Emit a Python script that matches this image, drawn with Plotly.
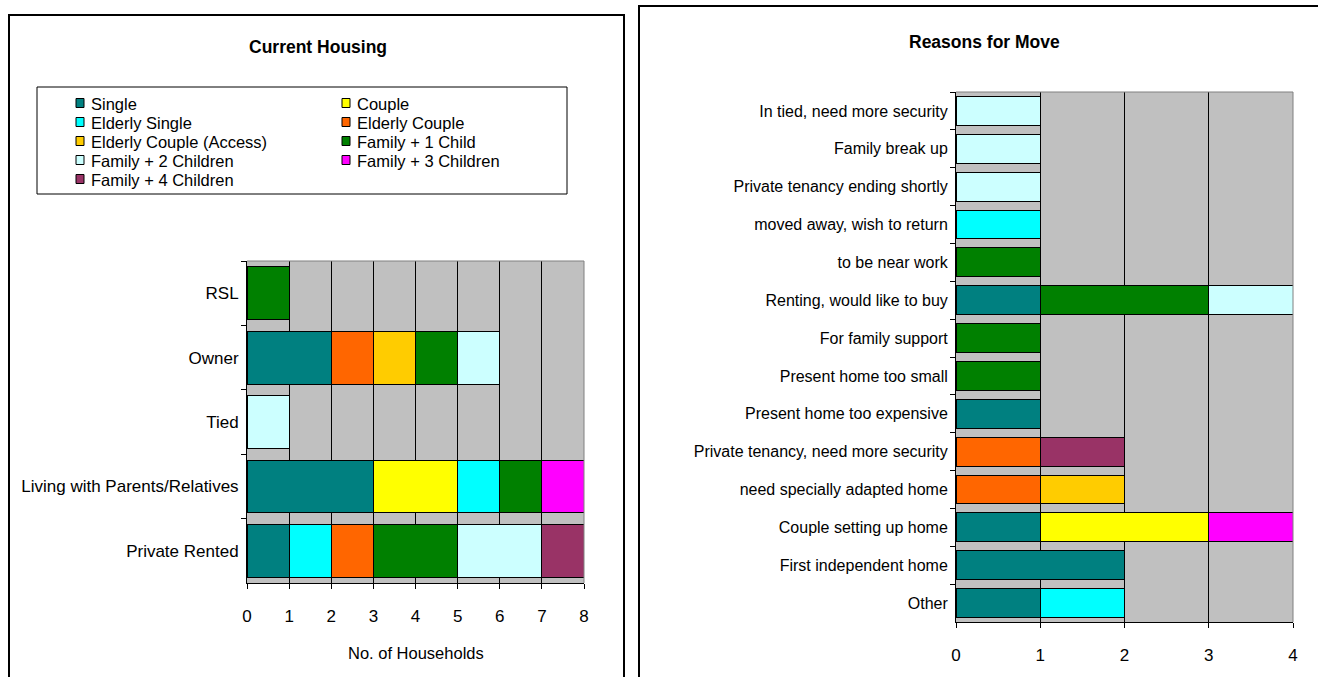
import plotly.graph_objects as go

W, H = 1318, 677

# Household types (stacking order) and their fill colours
series_names = ["Single", "Couple", "Elderly Single", "Elderly Couple",
                "Elderly Couple (Access)", "Family + 1 Child", "Family + 2 Children",
                "Family + 3 Children", "Family + 4 Children"]
series_colors = ["#008080", "#FFFF00", "#00FFFF", "#FF6600", "#FFCC00",
                 "#008000", "#CCFFFF", "#FF00FF", "#993366"]

# Current housing (top to bottom)
housing_categories = ["RSL", "Owner", "Tied", "Living with Parents/Relatives", "Private Rented"]
housing_single = [0, 2, 0, 3, 1]
housing_couple = [0, 0, 0, 2, 0]
housing_elderly_single = [0, 0, 0, 1, 1]
housing_elderly_couple = [0, 1, 0, 0, 1]
housing_elderly_access = [0, 1, 0, 0, 0]
housing_family1 = [1, 1, 0, 1, 2]
housing_family2 = [0, 1, 1, 0, 2]
housing_family3 = [0, 0, 0, 1, 0]
housing_family4 = [0, 0, 0, 0, 1]
housing_ticks = [0, 1, 2, 3, 4, 5, 6, 7, 8]

# Reasons for move (top to bottom)
reason_categories = ["In tied, need more security", "Family break up",
                     "Private tenancy ending shortly", "moved away, wish to return",
                     "to be near work", "Renting, would like to buy", "For family support",
                     "Present home too small", "Present home too expensive",
                     "Private tenancy, need more security", "need specially adapted home",
                     "Couple setting up home", "First independent home", "Other"]
reason_single =         [0, 0, 0, 0, 0, 1, 0, 0, 1, 0, 0, 1, 2, 1]
reason_couple =         [0, 0, 0, 0, 0, 0, 0, 0, 0, 0, 0, 2, 0, 0]
reason_elderly_single = [0, 0, 0, 1, 0, 0, 0, 0, 0, 0, 0, 0, 0, 1]
reason_elderly_couple = [0, 0, 0, 0, 0, 0, 0, 0, 0, 1, 1, 0, 0, 0]
reason_elderly_access = [0, 0, 0, 0, 0, 0, 0, 0, 0, 0, 1, 0, 0, 0]
reason_family1 =        [0, 0, 0, 0, 1, 2, 1, 1, 0, 0, 0, 0, 0, 0]
reason_family2 =        [1, 1, 1, 0, 0, 1, 0, 0, 0, 0, 0, 0, 0, 0]
reason_family3 =        [0, 0, 0, 0, 0, 0, 0, 0, 0, 0, 0, 1, 0, 0]
reason_family4 =        [0, 0, 0, 0, 0, 0, 0, 0, 0, 1, 0, 0, 0, 0]
reason_ticks = [0, 1, 2, 3, 4]

housing_series = [housing_single, housing_couple, housing_elderly_single,
                  housing_elderly_couple, housing_elderly_access, housing_family1,
                  housing_family2, housing_family3, housing_family4]
reason_series = [reason_single, reason_couple, reason_elderly_single,
                 reason_elderly_couple, reason_elderly_access, reason_family1,
                 reason_family2, reason_family3, reason_family4]

FONT = "Liberation Sans, Arial, sans-serif"


def px(x):
    return x / W


def py(y):
    return 1 - y / H


def nz(values):
    # empty segments are left out so no zero-width outlines are drawn
    return [v if v else None for v in values]


fig = go.Figure()

for name, color, hv, rv in zip(series_names, series_colors, housing_series, reason_series):
    fig.add_trace(go.Bar(
        x=nz(hv), y=housing_categories, orientation="h", name=name,
        marker=dict(color=color, line=dict(color="black", width=1)),
        width=0.82, xaxis="x", yaxis="y", showlegend=False))
    fig.add_trace(go.Bar(
        x=nz(rv), y=reason_categories, orientation="h", name=name,
        marker=dict(color=color, line=dict(color="black", width=1)),
        width=0.76, xaxis="x2", yaxis="y2", showlegend=False))

axis_common = dict(
    showline=True, linecolor="black", linewidth=1,
    ticks="outside", ticklen=5, tickcolor="black", tickwidth=1,
    zeroline=False, fixedrange=True, automargin=False,
)

fig.update_layout(
    width=W, height=H,
    margin=dict(l=0, r=0, t=0, b=0),
    paper_bgcolor="white",
    plot_bgcolor="#C0C0C0",
    barmode="stack",
    showlegend=False,
    font=dict(family=FONT, size=17, color="black"),
    xaxis=dict(domain=[px(247), px(584)], range=[0, 8], tickmode="array",
               tickvals=housing_ticks, showgrid=True, gridcolor="black", gridwidth=1,
               anchor="y", ticklabelstandoff=13,
               tickfont=dict(family=FONT, size=17, color="black"), **axis_common),
    yaxis=dict(domain=[py(583), py(261)], type="category",
               categoryorder="array", categoryarray=housing_categories,
               autorange="reversed", tickson="boundaries", showgrid=False,
               anchor="x", ticklabelstandoff=4,
               tickfont=dict(family=FONT, size=17, color="black"), **axis_common),
    xaxis2=dict(domain=[px(956), px(1293)], range=[0, 4], tickmode="array",
                tickvals=reason_ticks, showgrid=True, gridcolor="black", gridwidth=1,
                anchor="y2", ticklabelstandoff=13,
                tickfont=dict(family=FONT, size=17, color="black"), **axis_common),
    yaxis2=dict(domain=[py(622), py(92)], type="category",
                categoryorder="array", categoryarray=reason_categories,
                autorange="reversed", tickson="boundaries", showgrid=False,
                anchor="x2", ticklabelstandoff=4,
                tickfont=dict(family=FONT, size=16, color="black"), **axis_common),
)

shapes = []
# panel frames
shapes.append(dict(type="rect", xref="paper", yref="paper",
                   x0=px(9), x1=px(624), y0=py(720), y1=py(15),
                   line=dict(color="black", width=2)))
shapes.append(dict(type="rect", xref="paper", yref="paper",
                   x0=px(639), x1=px(1340), y0=py(720), y1=py(6),
                   line=dict(color="black", width=2)))
# plot-area edges (top and right)
for (x0, y0, x1, y1) in [(247, 261, 584, 261), (584, 261, 584, 583),
                         (956, 92, 1293, 92), (1293, 92, 1293, 622)]:
    shapes.append(dict(type="line", xref="paper", yref="paper",
                       x0=px(x0), x1=px(x1), y0=py(y0), y1=py(y1),
                       line=dict(color="#808080", width=1)))
# legend box
shapes.append(dict(type="rect", xref="paper", yref="paper",
                   x0=px(37), x1=px(567), y0=py(194), y1=py(87),
                   line=dict(color="black", width=1), fillcolor="white", layer="below"))

annotations = [
    dict(text="<b>Current Housing</b>", x=px(318), y=py(47), xref="paper", yref="paper",
         showarrow=False, xanchor="center", yanchor="middle",
         font=dict(family=FONT, size=17.5, color="black")),
    dict(text="<b>Reasons for Move</b>", x=px(985), y=py(42), xref="paper", yref="paper",
         showarrow=False, xanchor="center", yanchor="middle",
         font=dict(family=FONT, size=17.5, color="black")),
    dict(text="No. of Households", x=px(415.5), y=py(653), xref="paper", yref="paper",
         showarrow=False, xanchor="center", yanchor="middle",
         font=dict(family=FONT, size=16.5, color="black")),
]

# legend entries in two columns, row by row
col_marker_x = [76, 342]
col_text_x = [89, 355]
row_y0, row_step = 103, 19
for i, (name, color) in enumerate(zip(series_names, series_colors)):
    col, row = i % 2, i // 2
    yc = row_y0 + row * row_step
    mx = col_marker_x[col]
    shapes.append(dict(type="rect", xref="paper", yref="paper",
                       x0=px(mx), x1=px(mx + 8), y0=py(yc + 4.5), y1=py(yc - 4.5),
                       fillcolor=color, line=dict(color="black", width=1)))
    annotations.append(dict(text=name, x=px(col_text_x[col]), y=py(yc + 1),
                            xref="paper", yref="paper", showarrow=False,
                            xanchor="left", yanchor="middle",
                            font=dict(family=FONT, size=16.5, color="black")))

fig.update_layout(shapes=shapes, annotations=annotations)

fig.write_html("out.html")
